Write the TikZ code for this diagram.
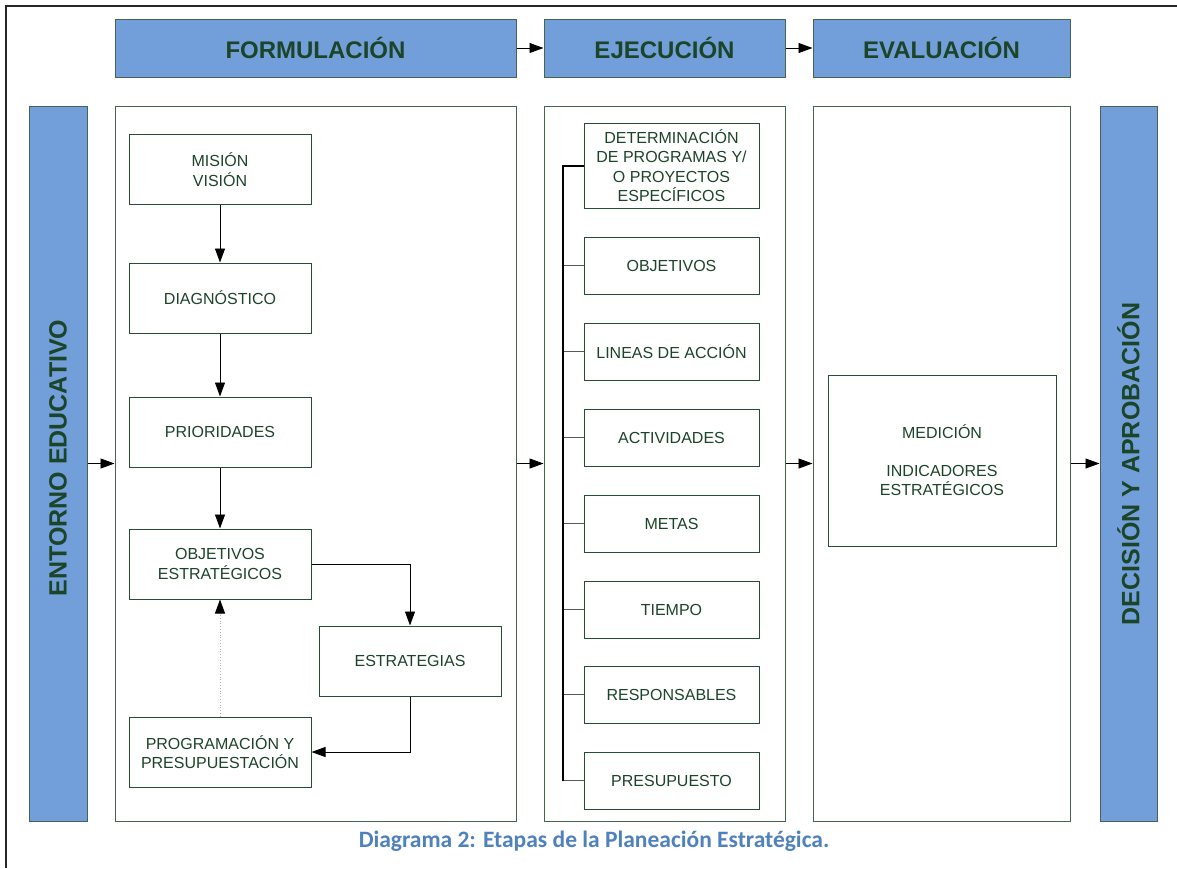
\documentclass[tikz,border=0pt]{standalone}
\usepackage{fontspec}
\setmainfont{Liberation Sans}
\newfontfamily\capfont{Carlito}
\usetikzlibrary{arrows.meta}
\definecolor{barblue}{RGB}{114,159,218}
\definecolor{edgegreen}{RGB}{38,78,52}
\definecolor{panelgreen}{RGB}{70,100,80}
\definecolor{txtgreen}{RGB}{28,68,40}
\definecolor{capblue}{RGB}{79,129,189}
\tikzset{
  x=1pt, y=-1pt,
  tip/.style={-{Triangle[length=14pt,width=10pt]}},
  header/.style={draw=panelgreen, line width=1pt, fill=barblue, text=txtgreen,
    font=\fontsize{24}{28}\selectfont\bfseries, inner sep=0pt},
  sidebar/.style={draw=panelgreen, line width=1pt, fill=barblue, text=txtgreen,
    font=\fontsize{25}{28}\selectfont\bfseries, inner sep=0pt,
    minimum height=715pt},
  panel/.style={draw=panelgreen, line width=1pt, fill=white, inner sep=0pt,
    minimum height=715pt},
  stepbox/.style={draw=edgegreen, line width=1pt, fill=white, text=txtgreen,
    font=\fontsize{16}{19.5}\selectfont, align=center, inner sep=0pt},
  fbox/.style={stepbox, minimum width=182pt, minimum height=70pt},
  ebox/.style={stepbox, minimum width=175pt, minimum height=57pt},
  link/.style={line width=0.9pt, black},
  branch/.style={line width=1.3pt, gray!70!black},
}
\begin{document}
\begin{tikzpicture}
\useasboundingbox[fill=white] (0,0) rectangle (1177,868);
% outer frame
\draw[line width=1.8pt, black!85] (6,868) -- (6,6) -- (1177,6);

% stage headers
\node[header, minimum width=401pt, minimum height=58pt] (hform) at (315.5,48) {FORMULACIÓN};
\node[header, minimum width=241pt, minimum height=58pt] (hejec) at (664.5,48) {EJECUCIÓN};
\node[header, minimum width=257pt, minimum height=58pt] (heval) at (941.5,48) {EVALUACIÓN};
\draw[link, tip] (hform.east) -- (hejec.west);
\draw[link, tip] (hejec.east) -- (heval.west);

% side bars
\node[sidebar, minimum width=58pt] (entorno) at (58,463.5) {};
\node[rotate=90, text=txtgreen, font=\fontsize{25}{28}\selectfont\bfseries] at (58,458) {ENTORNO EDUCATIVO};
\node[sidebar, minimum width=57pt] (decision) at (1128.5,463.5) {};
\node[rotate=90, text=txtgreen, font=\fontsize{25}{28}\selectfont\bfseries] at (1128.5,464) {DECISIÓN Y APROBACIÓN};

% panels
\node[panel, minimum width=401pt] (pform) at (315.5,463.5) {};
\node[panel, minimum width=241pt] (pejec) at (664.5,463.5) {};
\node[panel, minimum width=257pt] (peval) at (941.5,463.5) {};
\draw[link, tip] (entorno.east) -- (pform.west);
\draw[link, tip] (pform.east) -- (pejec.west);
\draw[link, tip] (pejec.east) -- (peval.west);
\draw[link, tip] (peval.east) -- (decision.west);

% formulation steps
\node[fbox] (mision) at (220,169.5) {MISIÓN\\VISIÓN};
\node[fbox] (diag) at (220,298) {DIAGNÓSTICO};
\node[fbox] (prio) at (220,432) {PRIORIDADES};
\node[fbox] (objest) at (220,564) {OBJETIVOS\\ESTRATÉGICOS};
\node[fbox] (estr) at (410,661) {ESTRATEGIAS};
\node[fbox] (prog) at (220,752) {PROGRAMACIÓN Y\\PRESUPUESTACIÓN};
\draw[link, tip] (mision) -- (diag);
\draw[link, tip] (diag) -- (prio);
\draw[link, tip] (prio) -- (objest);
\draw[link, tip] (objest.east) -| (estr.north);
\draw[link, tip] (estr.south) |- (prog.east);
\draw[gray!60, line width=0.8pt, dotted, -{Triangle[length=14pt,width=10pt,color=black]}] (prog.north) -- (objest.south);

% execution steps
\node[stepbox, minimum width=175pt, minimum height=85pt] (deter) at (671.5,165.5)
  {DETERMINACIÓN\\DE PROGRAMAS Y/\\O PROYECTOS\\ESPECÍFICOS};
\node[ebox] (objet) at (671.5,265.5) {OBJETIVOS};
\node[ebox] (lineas) at (671.5,351.5) {LINEAS DE ACCIÓN};
\node[ebox] (activ) at (671.5,437.5) {ACTIVIDADES};
\node[ebox] (metas) at (671.5,523.5) {METAS};
\node[ebox] (tiempo) at (671.5,609.5) {TIEMPO};
\node[ebox] (resp) at (671.5,694.5) {RESPONSABLES};
\node[ebox] (presu) at (671.5,780.5) {PRESUPUESTO};
\coordinate (spinetop) at (563,165.5);
\coordinate (spinebot) at (563,780.5);
\foreach \n in {objet,lineas,activ,metas,tiempo,resp}
  \draw[branch] (\n.west) -- (spinetop |- \n.west);
\draw[branch] (spinebot) -- (presu.west);
\draw[line width=2pt, black] (deter.west) -- (spinetop) -- (spinebot);

% evaluation
\node[stepbox, minimum width=228pt, minimum height=171pt] (medic) at (942,460.5)
  {MEDICIÓN\\[18pt]INDICADORES\\ESTRATÉGICOS};

% caption
\node[text=capblue, font=\capfont\fontsize{23.5}{26}\selectfont\bfseries] (caption) at (594,841)
  {Diagrama 2: Etapas de la Planeación Estratégica.};
\end{tikzpicture}
\end{document}
